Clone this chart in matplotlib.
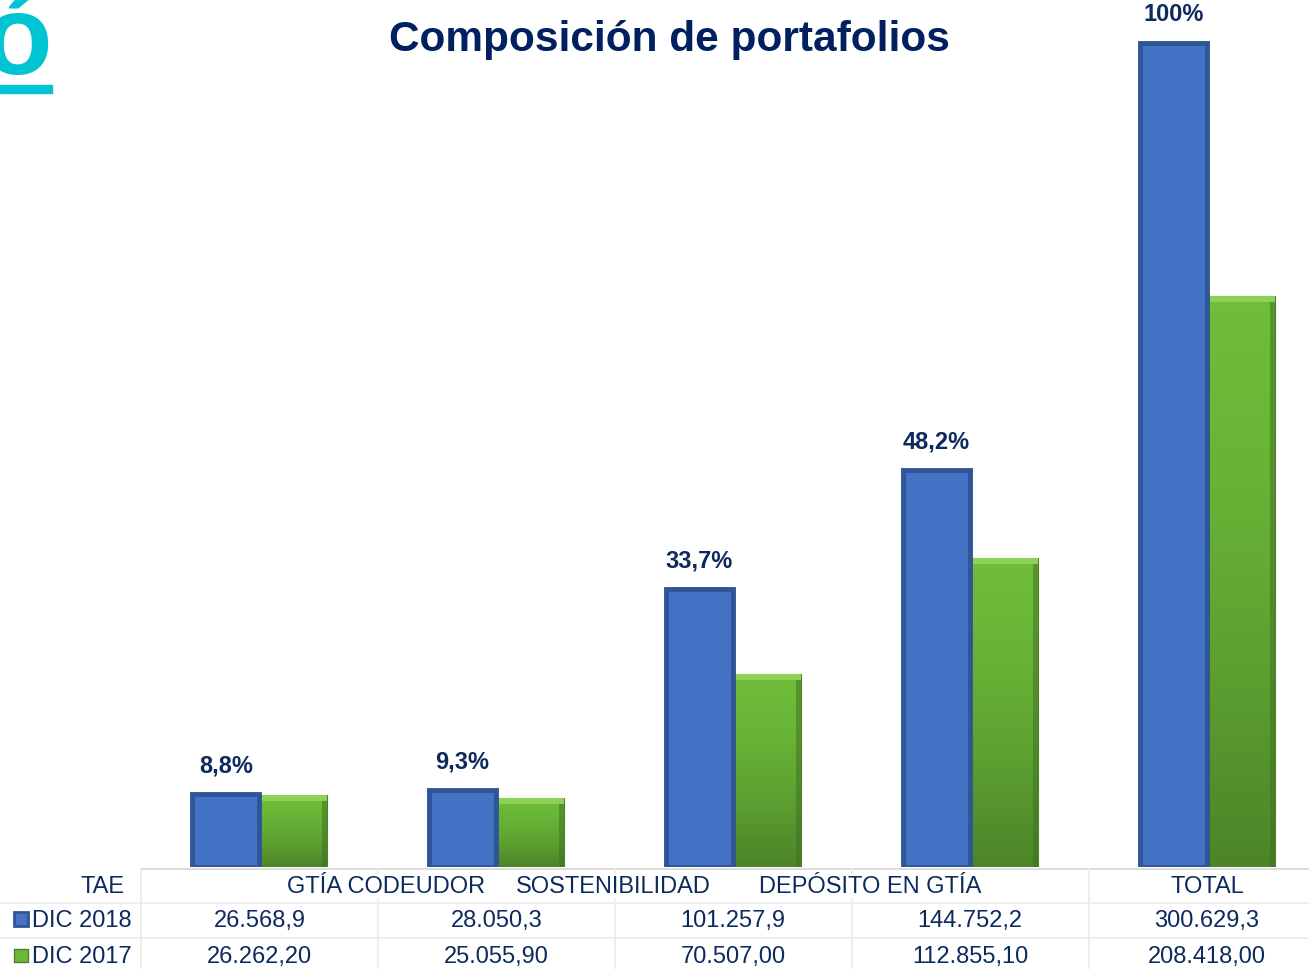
import numpy as np
import matplotlib.pyplot as plt
from matplotlib.patches import Rectangle
from matplotlib.colors import LinearSegmentedColormap
import matplotlib.transforms as mtransforms

# datos
categorias = ["", "GTÍA CODEUDOR", "SOSTENIBILIDAD", "DEPÓSITO EN GTÍA", "TOTAL"]
dic_2018 = [26568.9, 28050.3, 101257.9, 144752.2, 300629.3]
dic_2017 = [26262.20, 25055.90, 70507.00, 112855.10, 208418.00]
participacion = ["8,8%", "9,3%", "33,7%", "48,2%", "100%"]
series = ["DIC 2018", "DIC 2017"]
titulo = "Composición de portafolios"

# desplazamiento de los encabezados (así aparecen en la lámina)
desplaz_encabezado = [0, -0.464, -0.506, -0.422, 0]

W, H = 1309, 969
azul = "#4472C4"
azul_borde = "#2F5597"
navy = "#0D2A5E"
cian = "#00C4D4"

plt.rcParams['font.family'] = ['Liberation Sans', 'DejaVu Sans']


def fmt_es(v, dec):
    s = f"{v:,.{dec}f}"
    return s.replace(",", "X").replace(".", ",").replace("X", ".")


def fx(x):
    return x / W


def fy(y):
    return 1 - y / H


fig = plt.figure(figsize=(W / 100, H / 100), dpi=100)
base_px = 867
ax = fig.add_axes([fx(141), fy(base_px), 1 - fx(141), base_px / H])
ax.set_zorder(1)

escala = max(dic_2018) / 824.0  # valor por pixel
x = np.arange(len(categorias))
ancho = 0.285

barras_18 = ax.bar(x - ancho / 2, dic_2018, ancho, color=azul,
                   edgecolor=azul_borde, linewidth=3.5, zorder=3)
barras_17 = ax.bar(x + ancho / 2, dic_2017, ancho, color="#66B034",
                   edgecolor="#4E7F2A", linewidth=0.8, zorder=2)

# degradado en las barras verdes
cmap_verde = LinearSegmentedColormap.from_list(
    "verde", ["#4C8529", "#5C9F30", "#68B336", "#70BE3A"])
grad = np.linspace(0, 1, 256).reshape(-1, 1)
for b in barras_17:
    bx, bw, bh = b.get_x(), b.get_width(), b.get_height()
    im = ax.imshow(grad, extent=[bx, bx + bw, 0, bh], origin="lower",
                   aspect="auto", cmap=cmap_verde, zorder=2.5)
    im.set_clip_path(b)
    # bisel superior y lateral
    ax.add_patch(Rectangle((bx, bh - 6 * escala), bw, 6 * escala,
                           color="#9BDA62", alpha=0.7, lw=0, zorder=2.6))
    ax.add_patch(Rectangle((bx + bw * 0.93, 0), bw * 0.07, bh - 6 * escala,
                           color="#3E6F22", alpha=0.5, lw=0, zorder=2.6))

# etiquetas de porcentaje
for xi, v, t in zip(x, dic_2018, participacion):
    ax.text(xi - ancho / 2, v + 17 * escala, t, ha="center", va="bottom",
            fontsize=17, fontweight="bold", color=navy)

ax.set_xlim(-0.5, (W - 259) / 237.0)
ax.set_ylim(0, base_px * escala)
ax.axis("off")

# titulo
fig.text(fx(669), fy(40), titulo, ha="center", va="center", fontsize=30.5,
         fontweight="bold", color="#002060")

# fragmento cian arriba a la izquierda
fig.text(fx(52), fy(45), "ó", ha="right", va="center", fontsize=82,
         fontweight="bold", color=cian)
fig.patches.append(Rectangle((fx(0), fy(93)), fx(52), 8 / H, color=cian,
                             transform=fig.transFigure, figure=fig))

# tabla de datos
tr = mtransforms.blended_transform_factory(ax.transData, fig.transFigure)
gris = "#EBEBEB"
for yl in [869, 903, 938]:
    fig.add_artist(plt.Line2D([fx(141) if yl == 869 else 0, 1], [fy(yl), fy(yl)],
                              color="#D5D5D5" if yl == 869 else gris, lw=1.2,
                              transform=fig.transFigure, zorder=0))
for xl in [141, 378, 615, 852, 1089]:
    fig.add_artist(plt.Line2D([fx(xl), fx(xl)], [fy(869), fy(969)], color=gris,
                              lw=1.2, transform=fig.transFigure, zorder=0))

fig.text(fx(125), fy(887), "TAE", ha="right", va="center", fontsize=17, color=navy)
for xi, c, d in zip(x, categorias, desplaz_encabezado):
    ax.text(xi + d, fy(887), c, ha="center", va="center", fontsize=17,
            color=navy, transform=tr,
            bbox=dict(facecolor="white", edgecolor="none", pad=1))
for xi, v in zip(x, dic_2018):
    ax.text(xi, fy(921), fmt_es(v, 1), ha="center", va="center", fontsize=17,
            color=navy, transform=tr)
for xi, v in zip(x, dic_2017):
    ax.text(xi, fy(957), fmt_es(v, 2), ha="center", va="center", fontsize=17,
            color=navy, transform=tr)

fig.text(fx(32), fy(921), series[0], ha="left", va="center", fontsize=17, color=navy)
fig.text(fx(32), fy(957), series[1], ha="left", va="center", fontsize=17, color=navy)
fig.patches.append(Rectangle((fx(14), fy(926)), fx(14), 14 / H, facecolor=azul,
                             edgecolor=azul_borde, lw=2, transform=fig.transFigure,
                             figure=fig))
fig.patches.append(Rectangle((fx(14), fy(962)), fx(14), 13 / H, facecolor="#6DB83A",
                             edgecolor="#4E7F2A", lw=1, transform=fig.transFigure,
                             figure=fig))

fig.savefig("out.png", dpi=100)
